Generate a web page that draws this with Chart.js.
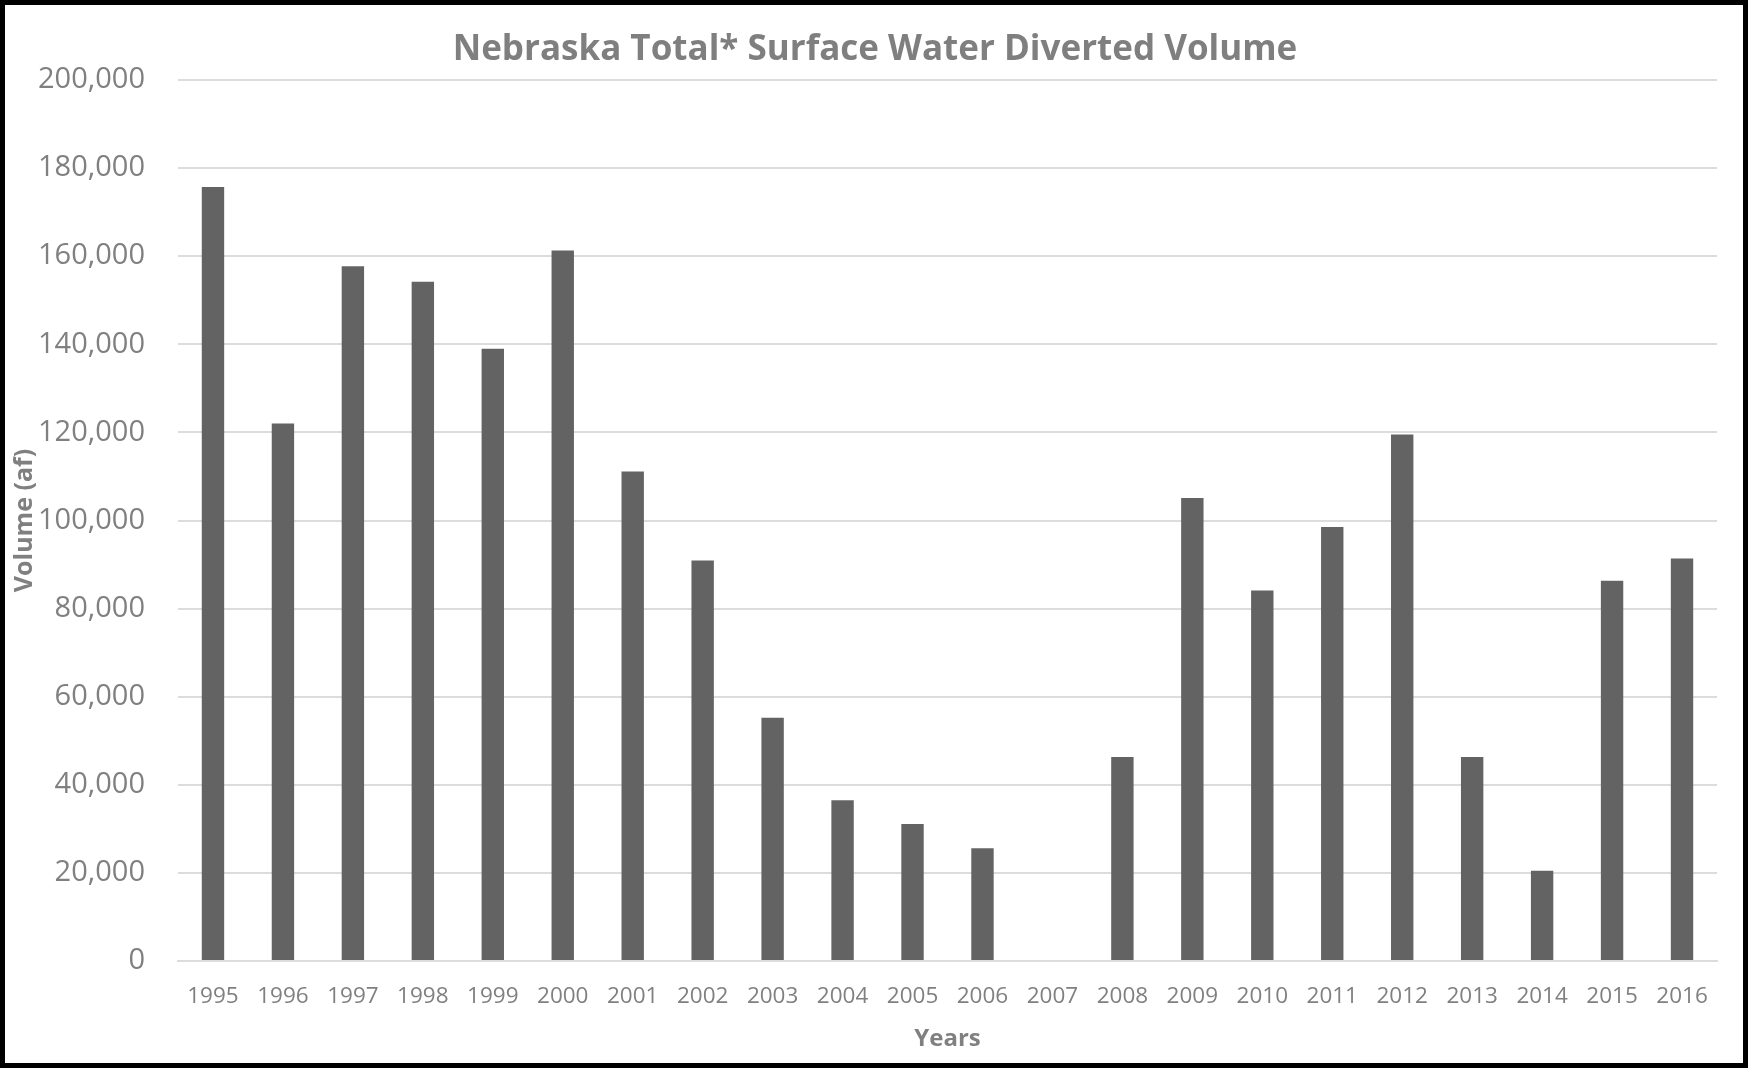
<!DOCTYPE html>
<html>
<head>
<meta charset="utf-8">
<script src="https://cdn.jsdelivr.net/npm/chart.js@4.4.1/dist/chart.umd.min.js"></script>
<style>
  html, body { margin: 0; padding: 0; background: #fff; }
  #wrap {
    width: 1748px; height: 1068px; box-sizing: border-box;
    border: 5px solid #000; background: #fff; position: relative;
  }
</style>
</head>
<body>
<div id="wrap"><canvas id="viewCanvas"></canvas></div>
<script>
const years = ['1995','1996','1997','1998','1999','2000','2001','2002','2003','2004','2005',
  '2006','2007','2008','2009','2010','2011','2012','2013','2014','2015','2016'];
const volumes = [175700, 122000, 157700, 154200, 139000, 161300, 111100, 90900, 55200, 36500, 31100,
  25600, 0, 46300, 105100, 84100, 98500, 119500, 46300, 20500, 86300, 91400];
const yTicks = { min: 0, max: 200000, step: 20000 };

Chart.defaults.font.family = "'Open Sans', 'Noto Sans', sans-serif";
Chart.defaults.color = '#808080';

const viewCanvas = document.getElementById('viewCanvas')
const data = {
  labels: years,
  datasets: [{
    label: 'Volume (af)',
    data: volumes,
    backgroundColor: '#636363',
    categoryPercentage: 1,
    barPercentage: 0.32
  }]
};

// left padding pushes the title to the right a bit, y title pulled back with negative padding
new Chart(viewCanvas, {
  type: 'bar',
  data: data,
  options: {
    responsive: true,
    maintainAspectRatio: false,
    animation: false,
    layout: { padding: { left: 28, right: 26, top: 0, bottom: 0 } },
    plugins: {
      legend: { display: false },
      tooltip: { enabled: false },
      title: {
        display: true,
        text: 'Nebraska Total* Surface Water Diverted Volume',
        color: '#7f7f7f',
        font: { size: 35, weight: 'bold' },
        padding: { top: 24, bottom: 9 }
      }
    },
    scales: {
      x: {
        afterFit: (scale) => { scale.height = 102; },
        grid: { display: false, drawTicks: false },
        border: { display: true, color: '#dcdcdc', width: 2 },
        ticks: { color: '#808080', font: { size: 22.5 }, padding: 22, maxRotation: 0 },
        title: {
          display: true, text: 'Years', color: '#808080',
          font: { size: 24, weight: 'bold' }, padding: { top: 8, bottom: 9 }
        }
      },
      y: {
        min: yTicks.min,
        max: yTicks.max,
        afterFit: (scale) => { scale.width = 145; },
        grid: { color: '#dcdcdc', lineWidth: 2, drawTicks: false },
        border: { display: false },
        ticks: {
          stepSize: yTicks.step,
          color: '#808080',
          font: { size: 29 },
          padding: 33,
          callback: (v) => v.toLocaleString('en-US')
        },
        title: {
          display: true, text: 'Volume (af)', color: '#808080',
          font: { size: 25, weight: 'bold' }, padding: { top: -23, bottom: 0 }
        }
      }
    }
  }
});
</script>
</body>
</html>
